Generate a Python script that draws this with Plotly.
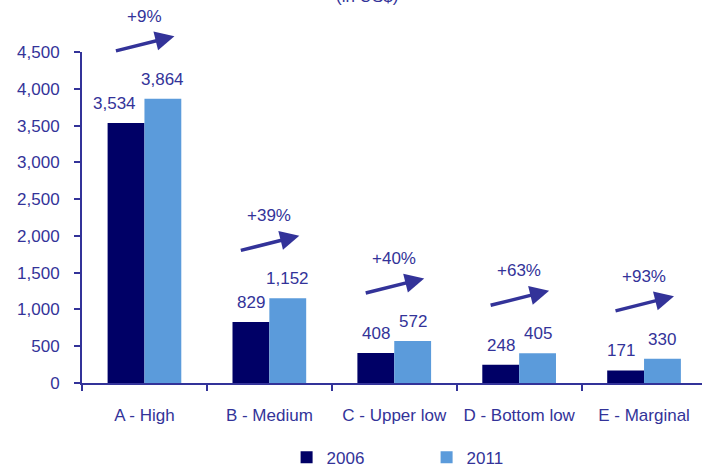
import plotly.graph_objects as go

categories = ["A - High", "B - Medium", "C - Upper low", "D - Bottom low", "E - Marginal"]
values_2006 = [3534, 829, 408, 248, 171]
values_2011 = [3864, 1152, 572, 405, 330]
y_ticks = [0, 500, 1000, 1500, 2000, 2500, 3000, 3500, 4000, 4500]

# styling
TXT = "#333399"
DARK = "#000066"
LIGHT = "#5B9BDB"
FONT = "Liberation Sans, Arial, sans-serif"
FS = 17
Y_MAX = 4500
label_nudge_2006 = [-12, 0, 0, 0, -5]  # px horizontal nudge of 2006 labels

fig = go.Figure()
fig.add_trace(go.Bar(name="2006", x=categories, y=values_2006, marker_color=DARK,
                     marker_line_width=0))
fig.add_trace(go.Bar(name="2011", x=categories, y=values_2011, marker_color=LIGHT,
                     marker_line_width=0))

ann = []
BAR_HALF = 18.4
for i, c in enumerate(categories):
    ann.append(dict(x=c, y=values_2006[i], xref="x", yref="y", text=f"{values_2006[i]:,}",
                    showarrow=False, yanchor="bottom", xshift=-BAR_HALF + label_nudge_2006[i], yshift=8,
                    font=dict(size=FS, color=TXT, family=FONT)))
    ann.append(dict(x=c, y=values_2011[i], xref="x", yref="y", text=f"{values_2011[i]:,}",
                    showarrow=False, yanchor="bottom", xshift=BAR_HALF, yshift=8,
                    font=dict(size=FS, color=TXT, family=FONT)))
    growth = round((values_2011[i] / values_2006[i] - 1) * 100)
    tip = values_2011[i] + 850
    ann.append(dict(x=i + 0.24, y=tip / Y_MAX, xref="x", yref="paper", ax=-60, ay=15,
                    axref="pixel", ayref="pixel", text="", showarrow=True, arrowhead=2,
                    arrowsize=1.1, arrowwidth=3.5, arrowcolor=TXT, standoff=0))
    ann.append(dict(x=i, y=(tip + 270) / Y_MAX, xref="x", yref="paper", text=f"+{growth}%",
                    showarrow=False, yanchor="middle",
                    font=dict(size=FS, color=TXT, family=FONT)))

ann.append(dict(x=0.46, y=1, xref="paper", yref="paper", yshift=44, yanchor="bottom",
                text="(in US$)", showarrow=False, font=dict(size=FS, color=TXT, family=FONT)))

fig.update_layout(
    width=702, height=468,
    margin=dict(l=82, r=0, t=52, b=85),
    paper_bgcolor="white", plot_bgcolor="white",
    barmode="group", bargap=0.41, bargroupgap=0,
    font=dict(family=FONT, size=FS, color=TXT),
    showlegend=True,
    legend=dict(orientation="h", x=0.33, xanchor="left", yref="container", y=0.022,
                yanchor="middle",
                font=dict(size=FS, color=TXT, family=FONT), itemwidth=30,
                entrywidth=95, entrywidthmode="pixels", bgcolor="rgba(0,0,0,0)"),
    annotations=ann,
)
fig.update_xaxes(range=[-0.5, 4.464], showline=True, linecolor=TXT, linewidth=2,
                 ticks="outside", tickson="boundaries", ticklen=6, tickcolor=TXT, tickwidth=2,
                 showgrid=False, ticklabelstandoff=16,
                 tickfont=dict(size=FS, color=TXT, family=FONT))
fig.update_yaxes(range=[0, Y_MAX], tickvals=y_ticks, tickformat=",d", showline=True,
                 linecolor=TXT, linewidth=2, ticks="outside", ticklen=6, tickcolor=TXT,
                 tickwidth=2, showgrid=False, zeroline=False, ticklabelstandoff=11,
                 tickfont=dict(size=FS, color=TXT, family=FONT))

fig.write_html("out.html")
